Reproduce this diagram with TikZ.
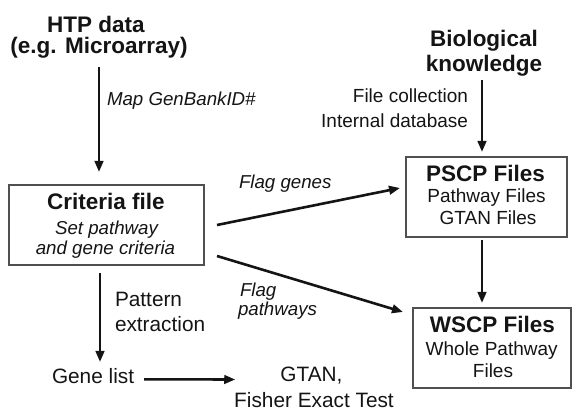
\documentclass[tikz,border=0pt]{standalone}
\usepackage{fontspec}
\setmainfont{Liberation Sans}
\usetikzlibrary{arrows.meta,calc}
\definecolor{ink}{HTML}{141414}
\definecolor{boxline}{HTML}{505050}
\begin{document}
\begin{tikzpicture}[x=1pt,y=-1pt,
  every node/.style={inner sep=0pt, outer sep=0pt, text=ink},
  titletxt/.style={font=\fontsize{22.5}{25}\selectfont\bfseries, anchor=base},
  ittxt/.style={font=\fontsize{18.7}{21}\selectfont\itshape, anchor=base},
  smalltxt/.style={font=\fontsize{19}{21}\selectfont, anchor=base},
  midtxt/.style={font=\fontsize{20.8}{23}\selectfont, anchor=base},
  boxnode/.style={draw=boxline, line width=1.2pt, rectangle},
  arr/.style={draw=ink, line width=2.6pt, -{Triangle[length=11pt,width=8.5pt]}}
]
\useasboundingbox (0,0) rectangle (573,411);

% top left
\node[titletxt] (htp1) at (96,32.5) {HTP data};
\node[titletxt] (htp2) at (99,53.5) {(e.g. Microarray)};
\node[ittxt, anchor=base west] (map) at (107,106) {Map GenBankID\#};

% criteria box
\node[boxnode, minimum width=195, minimum height=80] (crit) at (106.5,225) {};
\node[titletxt] (crit1) at (106,210) {Criteria file};
\node[ittxt] (crit2) at (106.5,235) {Set pathway};
\node[ittxt] (crit3) at (105.5,255) {and gene criteria};

% pattern extraction
\node[midtxt, anchor=base west] (pat1) at (115,306.5) {Pattern};
\node[midtxt, anchor=base west] (pat2) at (115,331.5) {extraction};
\node[midtxt, anchor=base west] (gene) at (52,383.3) {Gene list};
\node[midtxt] (gtan) at (311.5,381.7) {GTAN,};
\node[midtxt] (fisher) at (314,408) {Fisher Exact Test};

% flags
\node[ittxt, anchor=base west] (fg) at (239,189) {Flag genes};
\node[ittxt, anchor=base west] (fp1) at (240,297) {Flag};
\node[ittxt, anchor=base west] (fp2) at (238,316) {pathways};

% biological knowledge
\node[titletxt] (bio1) at (484,46.5) {Biological};
\node[titletxt] (bio2) at (484,72) {knowledge};
\node[smalltxt, anchor=base east] (fc) at (468,103) {File collection};
\node[smalltxt, anchor=base east] (idb) at (468,128) {Internal database};

% PSCP box
\node[boxnode, minimum width=161, minimum height=80] (pscp) at (486.5,197) {};
\node[titletxt] (pscp1) at (485.5,182) {PSCP Files};
\node[smalltxt] (pscp2) at (486.5,203) {Pathway Files};
\node[smalltxt] (pscp3) at (488,225) {GTAN Files};

% WSCP box
\node[boxnode, minimum width=158, minimum height=80] (wscp) at (492,348) {};
\node[titletxt] (wscp1) at (492.5,333) {WSCP Files};
\node[smalltxt] (wscp2) at (491.7,356) {Whole Pathway};
\node[smalltxt] (wscp3) at (493,378) {Files};

% connectors
\draw[arr] ($(htp2.base)+(0,13.5)$) -- ($(htp2.base |- crit.north)+(0,-13)$);
\draw[arr] ($(crit.south)+(-6.5,8)$) -- ($(crit.south)+(-6.5,97)$);
\draw[arr] ($(gene.base east)+(10,-4)$) -- ($(fisher.base west)+(1,-28.5)$);
\draw[arr] ($(crit.east)+(13,0)$) -- ($(pscp.west)+(-6,-9)$);
\draw[arr] ($(crit.south east)+(13,-9)$) -- ($(wscp.north west)+(-10,4)$);
\draw[arr] ($(bio2.base)+(-2,8)$) -- ($(pscp.north)+(-4.5,-5)$);
\draw[arr] ($(pscp.south)+(-4.5,3)$) -- ($(wscp.north)+(-10,-5)$);
\end{tikzpicture}
\end{document}
